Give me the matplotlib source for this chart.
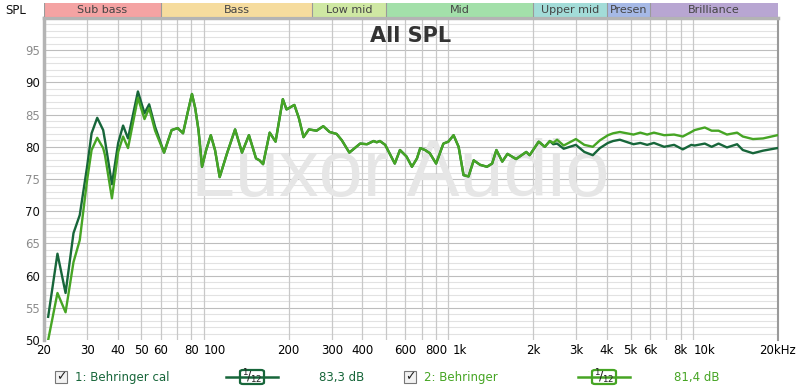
import numpy as np
import matplotlib
matplotlib.use('Agg')
import matplotlib.pyplot as plt
from matplotlib.patches import Rectangle, FancyBboxPatch

#--------------------------------------------------- data
# low end, the two curves differ
freq_low  = [20.8, 22.7, 24.5, 26.4, 28.0, 30.0, 31.3, 33.0, 34.9, 35.5, 37.9, 40.2, 42.1, 44.1, 48.4, 51.5, 53.8, 56.9]
dark_low  = [53.6, 63.4, 57.3, 66.6, 69.4, 76.9, 82.1, 84.5, 82.6, 81.0, 74.2, 80.6, 83.3, 81.3, 88.6, 85.2, 86.6, 83.1]
light_low = [50.0, 57.3, 54.3, 62.1, 65.5, 74.8, 79.5, 81.4, 79.8, 78.7, 72.0, 79.2, 81.6, 79.8, 87.6, 84.3, 86.0, 82.5]

# 60 Hz .. 2.3 kHz, both curves on top of each other
freq_mid = [61.9, 66.5, 70.4, 74.0, 77.5, 80.5, 83.0, 85.6, 88.5, 92.0, 96.1, 100, 104.5, 112, 120.8,
            128.9, 137.6, 147.1, 152, 157.2, 167.3, 176.8, 189.3, 196, 211, 220, 230, 242, 260, 277,
            294, 314, 330, 354, 392, 418, 445, 458, 472, 496, 543, 570, 606, 638, 669, 690, 722, 755,
            801, 858, 899, 944, 990, 1037, 1087, 1141, 1212, 1293, 1357, 1413, 1493, 1568, 1700, 1871,
            1932, 2104, 2228, 2337]
spl_mid  = [79.1, 82.6, 82.9, 82.1, 85.5, 88.2, 86.0, 82.6, 76.9, 79.5, 81.8, 79.5, 75.3, 79.0, 82.7,
            79.1, 81.8, 78.2, 77.9, 77.3, 82.2, 80.8, 87.4, 85.8, 86.5, 84.5, 81.5, 82.7, 82.5, 83.2,
            82.3, 82.0, 81.0, 79.1, 80.5, 80.4, 80.9, 80.7, 80.9, 80.3, 77.4, 79.5, 78.5, 76.9, 78.2, 79.8, 79.5, 79.0,
            77.4, 80.5, 80.8, 81.8, 80.0, 75.6, 75.4, 77.9, 77.2, 76.9, 77.4, 79.5, 77.7, 78.9, 78.1, 79.2,
            78.7, 80.8, 80.0, 80.9]

# high end, the curves split again
freq_high  = [2412, 2500, 2661, 2985, 3232, 3500, 3741, 4036, 4238, 4515, 5133, 5474, 5838, 6222, 6852,
              7523, 8163, 8843, 9130, 10040, 10710, 11430, 12370, 13610, 14360, 15800, 17380, 19870]
dark_high  = [80.4, 80.5, 79.7, 80.3, 79.2, 78.7, 79.8, 80.6, 80.9, 81.1, 80.4, 80.6, 80.3, 80.6, 80.0,
              80.3, 79.6, 80.3, 80.2, 80.5, 80.0, 80.5, 79.9, 80.4, 79.5, 79.0, 79.4, 79.8]
light_high = [80.6, 81.1, 80.2, 81.2, 80.3, 80.0, 81.0, 81.8, 82.1, 82.3, 81.9, 82.2, 81.9, 82.2, 81.8,
              81.9, 81.6, 82.3, 82.6, 83.0, 82.5, 82.5, 81.9, 82.2, 81.6, 81.2, 81.3, 81.8]

bands_name = ['Sub bass', 'Bass', 'Low mid', 'Mid', 'Upper mid', 'Presen', 'Brilliance']
bands_edge = [20, 60, 250, 500, 2000, 4000, 6000, 20000]
bands_col  = ['#f4a3a3', '#f6dc9e', '#cfe8a3', '#a3e0aa', '#a3dcd8', '#a6b9e6', '#b8a6d2']

xtick_f   = [20, 30, 40, 50, 60, 80, 100, 200, 300, 400, 600, 800, 1000, 2000, 3000, 4000, 5000, 6000, 8000, 10000, 20000]
xtick_lbl = ['20', '30', '40', '50', '60', '80', '100', '200', '300', '400', '600', '800', '1k', '2k', '3k', '4k', '5k', '6k', '8k', '10k', '20kHz']

legend_names = ['1: Behringer cal', '2: Behringer']
legend_level = ['83,3 dB', '81,4 dB']
col_dark  = '#17663a'
col_light = '#46a524'

freq_dark  = freq_low + freq_mid + freq_high
spl_dark   = dark_low + spl_mid + dark_high
freq_light = freq_low + freq_mid + freq_high
spl_light  = light_low + spl_mid + light_high

#--------------------------------------------------- figure
plt.rcParams['font.family'] = ['DejaVu Sans']
fig = plt.figure(figsize=(8, 3.92), dpi=100)
W, H = 800., 392.
x0, x1, ytop, ybot = 44, 778, 18, 340
ax = fig.add_axes([x0/W, 1-ybot/H, (x1-x0)/W, (ybot-ytop)/H])
ax.set_xscale('log')
ax.set_xlim(20, 20000)
ax.set_ylim(50, 100)

# grid
for f in [a*m for m in (10, 100, 1000) for a in range(2, 10)] + [20000]:
  if f < 20 or f > 20000:
    continue
  c = '#8a8a8a' if f in (100, 1000, 10000) else '#c8c8c8'
  ax.axvline(f, color=c, lw=0.9, zorder=1)
for v in range(51, 100):
  c = '#bdbdbd' if v % 5 == 0 else '#e2e2e2'
  ax.axhline(v, color=c, lw=0.8, zorder=0.5)

ax.text(570, 75.5, 'Luxor Audio', fontsize=57, color='#e6e6e6', ha='center', va='center',
        family='Liberation Sans', zorder=1.5)
ax.text(0.5, 0.944, 'All SPL', transform=ax.transAxes, fontsize=15, fontweight='bold', color='#333333',
        ha='center', va='center', zorder=2)

ax.plot(freq_dark, spl_dark, '-', lw=1.7, color=col_dark, zorder=3, solid_joinstyle='round')
ax.plot(freq_light, spl_light, '-', lw=1.7, color=col_light, zorder=4, solid_joinstyle='round')

ax.set_xticks(xtick_f)
ax.set_xticklabels(xtick_lbl)
ax.xaxis.set_minor_locator(matplotlib.ticker.NullLocator())
ax.set_yticks(range(50, 100, 5))
ax.tick_params(axis='both', length=0, labelsize=8.5, pad=3)
for lbl, v in zip(ax.get_yticklabels(), range(50, 100, 5)):
  lbl.set_color('#111111' if v % 10 == 0 else '#8c8c8c')
for s in ['left', 'top']:
  ax.spines[s].set_color('#b4b4b4'); ax.spines[s].set_linewidth(2.5)
ax.spines['right'].set_color('#9a9a9a'); ax.spines['right'].set_linewidth(1.5)
ax.spines['bottom'].set_visible(False)

fig.text(5/W, 1-10/H, 'SPL', fontsize=8.5, color='#111111', ha='left', va='center')

# frequency bands on top
axb = fig.add_axes([x0/W, 1-17/H, (x1-x0)/W, 14/H])
axb.set_xscale('log')
axb.set_xlim(20, 20000); axb.set_ylim(0, 1)
axb.axis('off')
for i in range(len(bands_name)):
  axb.axvspan(bands_edge[i], bands_edge[i+1], color=bands_col[i], lw=0)
  axb.axvline(bands_edge[i], color='#9a9a9a', lw=0.8)
  axb.text(np.sqrt(bands_edge[i]*bands_edge[i+1]), 0.5, bands_name[i], fontsize=8, color='#444444',
           ha='center', va='center')
axb.axhline(0.02, color='#9a9a9a', lw=0.8)

# legend row
yl = 1-377/H
def legend_entry(xbox, name, level, xsym, xlev, col):
  fig.patches.append(Rectangle(((xbox-6)/W, yl-6/H), 12/W, 12/H, transform=fig.transFigure,
                               facecolor='#f2f2f2', edgecolor='#777777', lw=0.8))
  fig.text(xbox/W, yl, '\u2713', fontsize=9, fontweight='bold', color='#222222', ha='center', va='center')
  fig.text((xbox+14)/W, yl, name, fontsize=8.5, color=col, ha='left', va='center')
  fig.lines.append(plt.Line2D([(xsym-26)/W, (xsym+26)/W], [yl, yl], transform=fig.transFigure, color=col, lw=1.8))
  fig.patches.append(FancyBboxPatch(((xsym-12)/W, yl-7/H), 24/W, 14/H, transform=fig.transFigure,
                                    boxstyle='round,pad=0,rounding_size=0.004', facecolor='white', edgecolor=col, lw=1.6))
  fig.text(xsym/W, yl, r'$\mathregular{^{1}\!/_{12}}$', fontsize=9, color='#222222', ha='center', va='center')
  fig.text(xlev/W, yl, level, fontsize=8.5, color=col, ha='center', va='center')

legend_entry(61, legend_names[0], legend_level[0], 252, 342, col_dark)
legend_entry(410, legend_names[1], legend_level[1], 604, 697, col_light)

fig.savefig('out.png', dpi=100)
